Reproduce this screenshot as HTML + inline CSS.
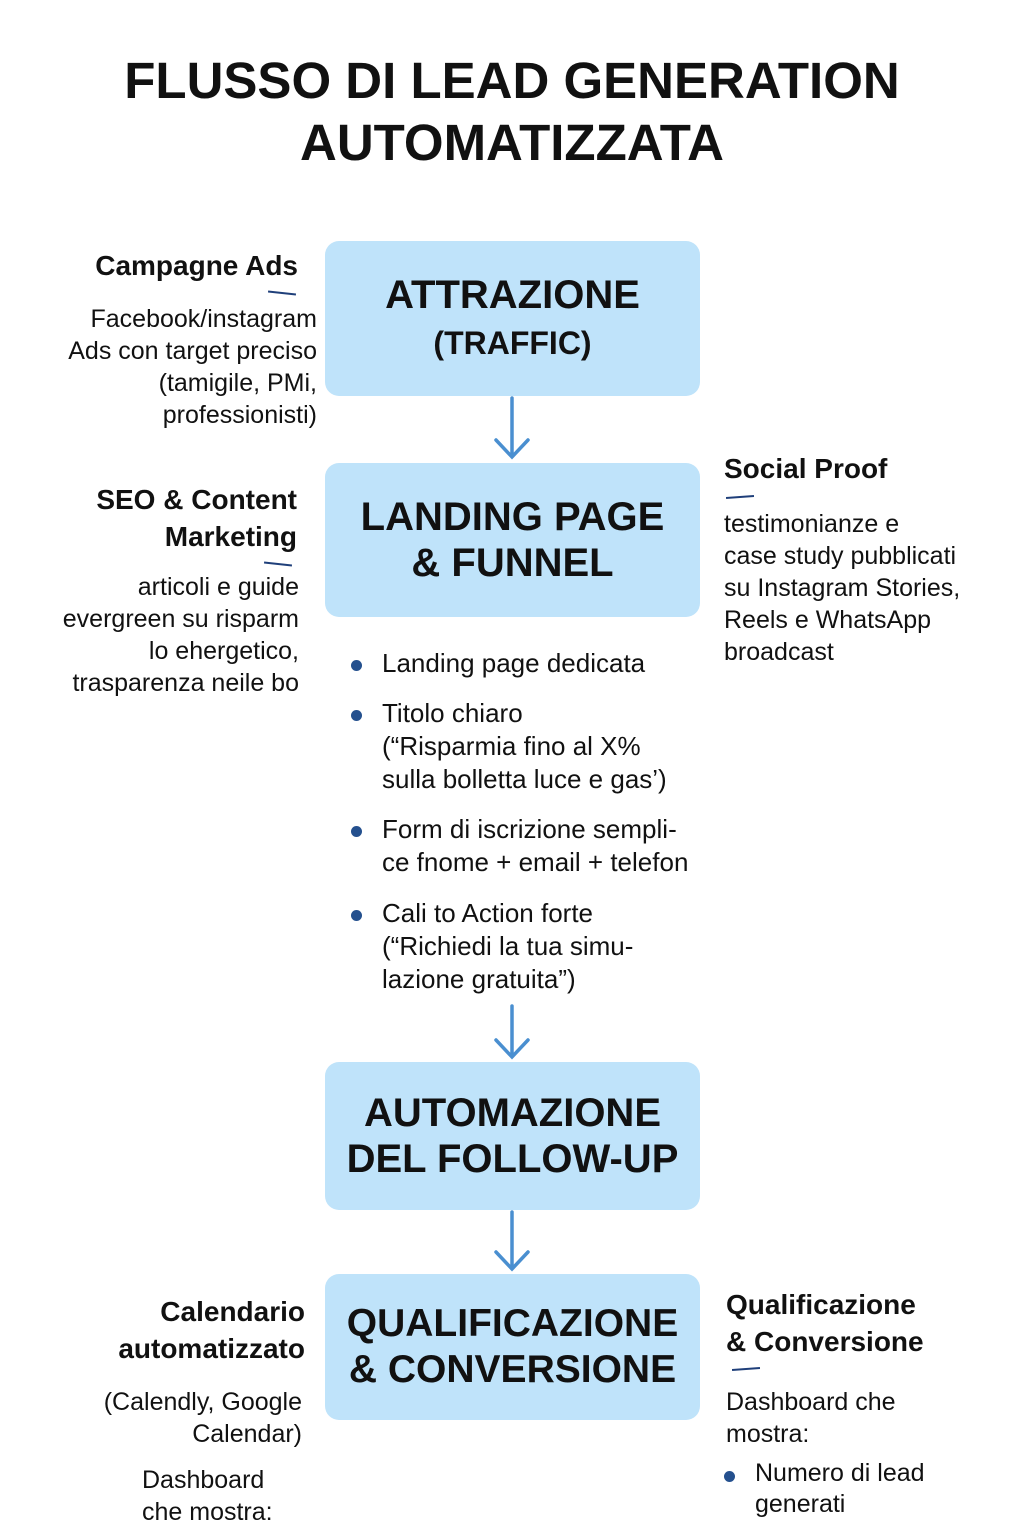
<!DOCTYPE html>
<html><head><meta charset="utf-8"><style>
body{margin:0;width:1024px;height:1536px;background:#fff;position:relative;overflow:hidden;font-family:"Liberation Sans",sans-serif;color:#111}
.a{position:absolute}
.title{left:0;width:1024px;text-align:center;top:50px;font-weight:bold;font-size:51px;line-height:62px}
.box{position:absolute;left:325px;width:375px;background:#bfe3fa;border-radius:14px;display:flex;align-items:center;justify-content:center;text-align:center;font-weight:bold;font-size:40px;line-height:46px}
.h{font-weight:bold;font-size:28px;line-height:37px}
.t{font-size:25px;line-height:32px}
.r{text-align:right}
.dash{position:absolute;height:2px;width:28px;background:#1f3f7a;transform:rotate(6deg)}
.li{position:absolute;font-size:26px;line-height:33px}
.li:before{content:"";position:absolute;left:-31px;top:13px;width:11px;height:11px;border-radius:50%;background:#24508e}
</style></head><body>
<div class="a title">FLUSSO DI LEAD GENERATION<br>AUTOMATIZZATA</div>

<div class="box" style="top:241px;height:155px"><div>ATTRAZIONE<br><span style="font-size:32px">(TRAFFIC)</span></div></div>
<div class="box" style="top:463px;height:154px">LANDING PAGE<br>&amp; FUNNEL</div>
<div class="box" style="top:1062px;height:148px">AUTOMAZIONE<br>DEL FOLLOW-UP</div>
<div class="box" style="top:1274px;height:146px;font-size:39px">QUALIFICAZIONE<br>&amp; CONVERSIONE</div>

<svg class="a" style="left:0;top:0" width="1024" height="1536">
<g stroke="#4a8fd0" stroke-width="3.5" fill="none" stroke-linecap="round">
<path d="M512 398V456M496 440L512 457L528 440"/>
<path d="M512 1006V1056M496 1040L512 1057L528 1040"/>
<path d="M512 1212V1268M496 1252L512 1269L528 1252"/>
</g></svg>

<div class="a h r" style="right:726px;top:247px">Campagne Ads</div>
<div class="dash" style="left:268px;top:292px"></div>
<div class="a t r" style="right:707px;top:303px">Facebook/instagram<br>Ads con target preciso<br>(tamigile, PMi,<br>professionisti)</div>

<div class="a h r" style="right:727px;top:481px;line-height:37px">SEO &amp; Content<br>Marketing</div>
<div class="dash" style="left:264px;top:563px"></div>
<div class="a t r" style="right:725px;top:571px">articoli e guide<br>evergreen su risparm<br>lo ehergetico,<br>trasparenza neile bo</div>

<div class="a h" style="left:724px;top:450px">Social Proof</div>
<div class="dash" style="left:726px;top:496px;transform:rotate(-4deg)"></div>
<div class="a t" style="left:724px;top:508px">testimonianze e<br>case study pubblicati<br>su Instagram Stories,<br>Reels e WhatsApp<br>broadcast</div>

<div class="li" style="left:382px;top:647px">Landing page dedicata</div>
<div class="li" style="left:382px;top:697px">Titolo chiaro<br>(“Risparmia fino al X%<br>sulla bolletta luce e gas’)</div>
<div class="li" style="left:382px;top:813px">Form di iscrizione sempli-<br>ce fnome + email + telefon</div>
<div class="li" style="left:382px;top:897px">Cali to Action forte<br>(“Richiedi la tua simu-<br>lazione gratuita”)</div>

<div class="a h r" style="right:719px;top:1293px">Calendario<br>automatizzato</div>
<div class="a t r" style="right:722px;top:1386px">(Calendly, Google<br>Calendar)</div>
<div class="a t" style="left:142px;top:1464px">Dashboard<br>che mostra:</div>

<div class="a h" style="left:726px;top:1286px">Qualificazione<br>&amp; Conversione</div>
<div class="dash" style="left:732px;top:1368px;transform:rotate(-4deg)"></div>
<div class="a t" style="left:726px;top:1386px">Dashboard che<br>mostra:</div>
<div class="li" style="left:755px;top:1458px;font-size:25px;line-height:31px">Numero di lead<br>generati</div>
</body></html>
